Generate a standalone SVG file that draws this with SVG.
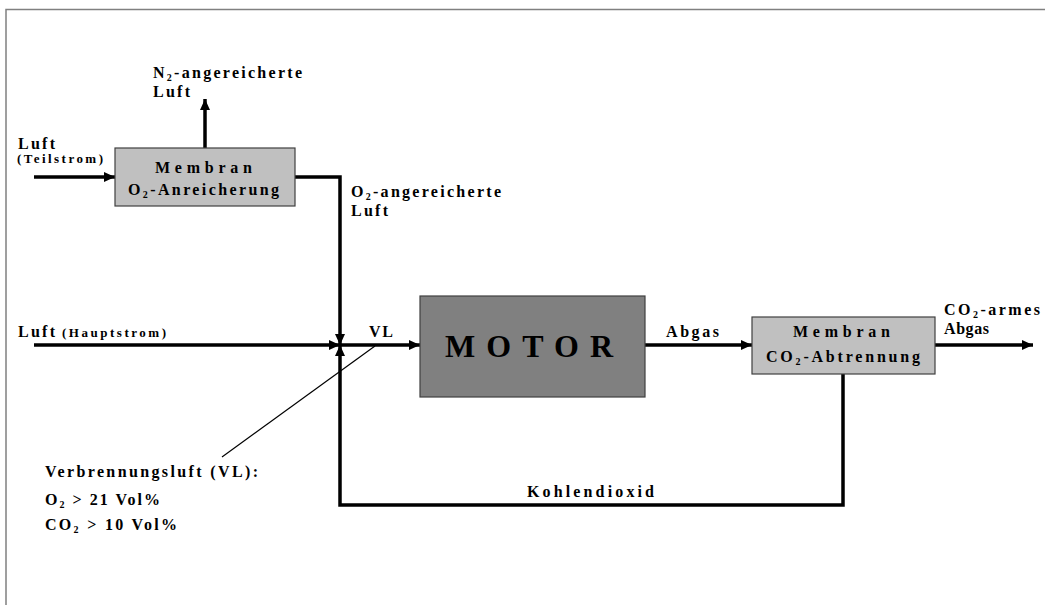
<svg xmlns="http://www.w3.org/2000/svg" width="1045" height="605" viewBox="0 0 1045 605">
<style>
text{font-family:"Liberation Serif","Times New Roman",serif;font-weight:bold;fill:#000;font-size:16px}
.sm{font-size:13px}
.sub{font-size:10px}
.big{font-size:32px}
.box{stroke:#404040;stroke-width:1.2}
.conn{fill:none;stroke:#000;stroke-width:3.5}
.thin{fill:none;stroke:#000;stroke-width:1.2}
</style>
<defs>
<marker id="ah" markerUnits="userSpaceOnUse" markerWidth="11" markerHeight="10" refX="11" refY="5" orient="auto">
<path d="M0,0 L11,5 L0,10 z" fill="#000"/>
</marker>
</defs>
<rect width="1045" height="605" fill="#fff"/>
<path d="M6,605 V9.5 H1045" fill="none" stroke="#808080" stroke-width="1.5"/>

<g id="connectors">
<line class="conn" x1="34" y1="177" x2="115" y2="177" marker-end="url(#ah)"/>
<line class="conn" x1="205" y1="148" x2="205" y2="99" marker-end="url(#ah)"/>
<path class="conn" d="M295,177 H340 V345" marker-end="url(#ah)"/>
<line class="conn" x1="34" y1="345" x2="340" y2="345" marker-end="url(#ah)"/>
<line class="conn" x1="340" y1="345" x2="420" y2="345" marker-end="url(#ah)"/>
<line class="conn" x1="645" y1="345" x2="752" y2="345" marker-end="url(#ah)"/>
<line class="conn" x1="935" y1="345" x2="1033" y2="345" marker-end="url(#ah)"/>
<path class="conn" d="M843,374 V505 H340 V345" marker-end="url(#ah)"/>
<line class="thin" x1="375" y1="346" x2="222" y2="457"/>
</g>

<g id="membran-o2">
<rect class="box" x="115" y="148" width="180" height="58" fill="#c0c0c0"/>
<text x="155" y="173" textLength="97" lengthAdjust="spacing">Membran</text>
<text x="128" y="195" textLength="151" lengthAdjust="spacing">O<tspan class="sub" dy="3">2</tspan><tspan dy="-3">-Anreicherung</tspan></text>
</g>

<g id="motor">
<rect class="box" x="420" y="296" width="225" height="101" fill="#808080"/>
<text class="big" x="445" y="357" textLength="168" lengthAdjust="spacing">MOTOR</text>
</g>

<g id="membran-co2">
<rect class="box" x="752" y="317" width="183" height="57" fill="#c0c0c0"/>
<text x="793" y="337" textLength="97" lengthAdjust="spacing">Membran</text>
<text x="766" y="362" textLength="154" lengthAdjust="spacing">CO<tspan class="sub" dy="3">2</tspan><tspan dy="-3">-Abtrennung</tspan></text>
</g>

<g id="labels">
<text x="153" y="78" textLength="149" lengthAdjust="spacing">N<tspan class="sub" dy="3">2</tspan><tspan dy="-3">-angereicherte</tspan></text>
<text x="153" y="97" textLength="37" lengthAdjust="spacing">Luft</text>
<text x="18" y="149" textLength="37" lengthAdjust="spacing">Luft</text>
<text class="sm" x="17" y="163" textLength="86" lengthAdjust="spacing">(Teilstrom)</text>
<text x="351" y="197" textLength="150" lengthAdjust="spacing">O<tspan class="sub" dy="3">2</tspan><tspan dy="-3">-angereicherte</tspan></text>
<text x="351" y="216" textLength="37" lengthAdjust="spacing">Luft</text>
<text x="18" y="337" textLength="37" lengthAdjust="spacing">Luft</text>
<text class="sm" x="62" y="337" textLength="104" lengthAdjust="spacing">(Hauptstrom)</text>
<text x="369" y="337" textLength="24" lengthAdjust="spacing">VL</text>
<text x="666" y="337" textLength="53" lengthAdjust="spacing">Abgas</text>
<text x="944" y="315" textLength="96" lengthAdjust="spacing">CO<tspan class="sub" dy="3">2</tspan><tspan dy="-3">-armes</tspan></text>
<text x="944" y="334" textLength="45" lengthAdjust="spacing">Abgas</text>
<text x="527" y="497" textLength="127" lengthAdjust="spacing">Kohlendioxid</text>
<text x="45" y="477" textLength="213" lengthAdjust="spacing">Verbrennungsluft (VL):</text>
<text x="45" y="505" textLength="115" lengthAdjust="spacing">O<tspan class="sub" dy="3">2</tspan><tspan dy="-3"> &gt; 21 Vol%</tspan></text>
<text x="45" y="530" textLength="132" lengthAdjust="spacing">CO<tspan class="sub" dy="3">2</tspan><tspan dy="-3"> &gt; 10 Vol%</tspan></text>
</g>
</svg>
